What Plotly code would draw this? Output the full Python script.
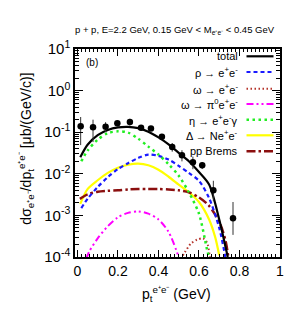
import plotly.graph_objects as go

FONT = "Liberation Sans, Arial, Helvetica, sans-serif"

# ---------------- data ----------------
data_x = [0.016, 0.077, 0.139, 0.197, 0.259, 0.314, 0.363, 0.417, 0.468, 0.516, 0.570, 0.616, 0.671, 0.768]
data_y = [0.139, 0.131, 0.136, 0.163, 0.176, 0.128, 0.122, 0.078, 0.044, 0.0279, 0.0189, 0.016, 0.0040, 8.5e-4]
data_err_up = [0.093, 0.069, 0.038, 0.022, 0.034, 0.017, 0.013, 0.010, 0.011, 0.009, 0.007, 0.003, 0.0028, 1.25e-3]
data_err_down = [0.090, 0.073, 0.036, 0.023, 0.031, 0.018, 0.014, 0.010, 0.010, 0.008, 0.006, 0.003, 0.0018, 5.1e-4]

total_x = [0.014, 0.05, 0.1, 0.15, 0.2, 0.25, 0.3, 0.35, 0.4, 0.45, 0.5, 0.55, 0.6, 0.65, 0.7, 0.742]
total_y = [0.025, 0.05, 0.085, 0.113, 0.13, 0.134, 0.125, 0.103, 0.075, 0.051, 0.032, 0.020, 0.011, 0.0055, 8e-4, 1e-4]

rho_x = [0.019, 0.05, 0.1, 0.15, 0.2, 0.25, 0.3, 0.35, 0.4, 0.45, 0.5, 0.55, 0.6, 0.65, 0.7, 0.73]
rho_y = [1.5e-3, 2.5e-3, 4.8e-3, 8.3e-3, 0.013, 0.018, 0.024, 0.029, 0.027, 0.022, 0.0155, 0.0105, 0.0068, 0.0026, 5e-4, 1.0e-4]

omega_x = [0.51, 0.53, 0.56, 0.59, 0.62, 0.64, 0.655]
omega_y = [9e-5, 1.3e-4, 2.1e-4, 2.6e-4, 2.8e-4, 2.2e-4, 9e-5]

omegapi_x = [0.043, 0.06, 0.1, 0.15, 0.2, 0.25, 0.3, 0.35, 0.4, 0.45, 0.5]
omegapi_y = [9e-5, 1.4e-4, 2.8e-4, 5.5e-4, 9e-4, 1.15e-3, 1.25e-3, 1.1e-3, 8e-4, 4e-4, 1e-4]

eta_x = [0.019, 0.05, 0.1, 0.15, 0.2, 0.25, 0.3, 0.35, 0.4, 0.45, 0.5, 0.55, 0.6, 0.64, 0.655]
eta_y = [0.020, 0.036, 0.066, 0.095, 0.105, 0.098, 0.07, 0.045, 0.029, 0.017, 0.009, 0.0036, 0.0011, 1.5e-4, 8e-5]

delta_x = [0.014, 0.05, 0.1, 0.15, 0.2, 0.25, 0.3, 0.35, 0.4, 0.45, 0.5, 0.55, 0.6, 0.65, 0.68, 0.70]
delta_y = [1.9e-3, 4.3e-3, 7e-3, 0.0105, 0.014, 0.0165, 0.0175, 0.016, 0.0125, 0.0085, 0.0055, 0.0036, 0.0021, 8e-4, 3e-4, 1.1e-4]

brems_x = [0.012, 0.05, 0.1, 0.15, 0.2, 0.25, 0.3, 0.35, 0.4, 0.45, 0.5, 0.55, 0.6, 0.65, 0.7, 0.73, 0.745]
brems_y = [2.5e-3, 3.2e-3, 3.7e-3, 3.9e-3, 4.0e-3, 4.2e-3, 4.3e-3, 4.3e-3, 4.3e-3, 4.2e-3, 4.0e-3, 3.6e-3, 2.7e-3, 1.7e-3, 7e-4, 2.6e-4, 1e-4]

x_tick_vals = [0, 0.2, 0.4, 0.6, 0.8, 1]
x_tick_text = ["0", "0.2", "0.4", "0.6", "0.8", "1"]
y_tick_vals = [1e-4, 1e-3, 1e-2, 1e-1, 1, 10]
y_tick_text = ["10<sup>-4</sup>", "10<sup>-3</sup>", "10<sup>-2</sup>", "10<sup>-1</sup>", "10<sup>0</sup>", "10<sup>1</sup>"]

legend_labels = ["total", "ρ → e<sup>+</sup>e<sup>-</sup>", "ω → e<sup>+</sup>e<sup>-</sup>",
                 "ω → π<sup>0</sup>e<sup>+</sup>e<sup>-</sup>", "η → e<sup>+</sup>e<sup>-</sup>γ",
                 "Δ → Ne<sup>+</sup>e<sup>-</sup>", "pp Brems"]

# ---------------- styles ----------------
styles = [
    dict(color="black", width=2.2, dash="solid"),
    dict(color="#1a1aff", width=2.2, dash="4px,3px"),
    dict(color="#b5332a", width=2, dash="1.5px,2.5px"),
    dict(color="#ff00ff", width=2, dash="7px,3px,2px,3px,2px,3px"),
    dict(color="#22ee22", width=2.5, dash="2.5px,3.5px"),
    dict(color="#ffff00", width=2.2, dash="solid"),
    dict(color="#8b0f0f", width=2.5, dash="9px,3px,2.5px,3px"),
]

curves = [(total_x, total_y), (rho_x, rho_y), (omega_x, omega_y), (omegapi_x, omegapi_y),
          (eta_x, eta_y), (delta_x, delta_y), (brems_x, brems_y)]

fig = go.Figure()
order = [5, 6, 3, 2, 1, 4, 0]
for i in order:
    cx, cy = curves[i]
    fig.add_trace(go.Scatter(x=cx, y=cy, mode="lines", line=dict(shape="spline", smoothing=0.8, **styles[i]),
                             showlegend=False, hoverinfo="skip"))

fig.add_trace(go.Scatter(
    x=data_x, y=data_y, mode="markers",
    marker=dict(color="black", size=6.5),
    error_y=dict(type="data", symmetric=False, array=data_err_up, arrayminus=data_err_down,
                 color="#333333", thickness=1, width=0),
    showlegend=False))

minor_y = [m * 10 ** e for e in range(-4, 1) for m in range(2, 10)]

fig.update_layout(
    width=300, height=315,
    margin=dict(l=67, r=28, t=41, b=66),
    paper_bgcolor="white", plot_bgcolor="white",
    font=dict(family=FONT, color="black"),
)
fig.update_xaxes(
    range=[-0.012, 1.0], showgrid=False, zeroline=False,
    showline=True, linecolor="black", linewidth=1.5, mirror="ticks",
    ticks="inside", ticklen=7, tickcolor="black", tickwidth=1,
    tickvals=x_tick_vals, ticktext=x_tick_text, tickfont=dict(size=14, family=FONT),
    minor=dict(ticks="inside", ticklen=3.5, dtick=0.02, tick0=0, tickcolor="black", showgrid=False),
)
fig.update_yaxes(
    type="log", range=[-4, 1], showgrid=False, zeroline=False,
    showline=True, linecolor="black", linewidth=1.5, mirror="ticks",
    ticks="inside", ticklen=8, tickcolor="black", tickwidth=1,
    tickvals=y_tick_vals, ticktext=y_tick_text, tickfont=dict(size=15, family=FONT),
    minor=dict(ticks="inside", ticklen=4, tickvals=minor_y, tickcolor="black", showgrid=False),
)

ann = []
ann.append(dict(text="p + p, E=2.2 GeV, 0.15 GeV < M<sub>e⁺e⁻</sub> < 0.45 GeV",
                x=0.488, y=1.091, xref="paper", yref="paper", showarrow=False,
                font=dict(size=9.5, family=FONT), xanchor="center", yanchor="middle"))
ann.append(dict(text="(b)", x=0.085, y=0.933, xref="paper", yref="paper",
                showarrow=False, font=dict(size=10, family=FONT), xanchor="center", yanchor="middle"))
ann.append(dict(text="dσ<sub>e⁺e⁻</sub>/dp<sub>t</sub><sup>e⁺e⁻</sup> [μb/(GeV/c)]",
                x=-0.24, y=0.52, xref="paper", yref="paper", textangle=-90, showarrow=False,
                font=dict(size=14, family=FONT), xanchor="center", yanchor="middle"))
ann.append(dict(text="p<sub>t</sub><sup>e⁺e⁻</sup> (GeV)",
                x=0.493, y=-0.18, xref="paper", yref="paper", showarrow=False,
                font=dict(size=14, family=FONT), xanchor="center", yanchor="middle"))

row_y_px = [48.3, 64.0, 80.7, 96.0, 111.7, 127.3, 143.3]
shapes = []
for lab, ypx, st in zip(legend_labels, row_y_px, styles):
    yp = (249 - ypx) / 208
    ann.append(dict(text=lab, x=(232 - 67) / 205, y=yp, xref="paper", yref="paper",
                    showarrow=False, font=dict(size=11, family=FONT),
                    xanchor="right", yanchor="middle"))
    shapes.append(dict(type="line", xref="paper", yref="paper",
                       x0=(238.5 - 67) / 205, x1=(265.5 - 67) / 205, y0=yp, y1=yp,
                       line=dict(color=st["color"], width=st["width"], dash=st["dash"])))

fig.update_layout(annotations=ann, shapes=shapes)
fig.write_html("out.html")
